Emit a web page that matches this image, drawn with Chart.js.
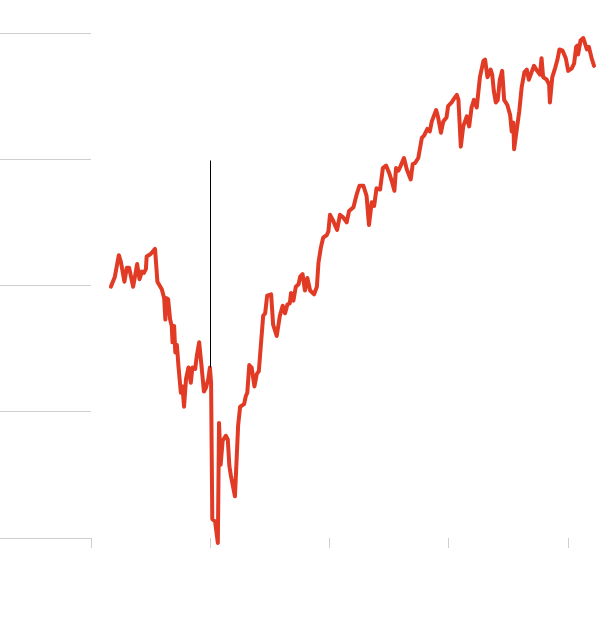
<!DOCTYPE html>
<html>
<head>
<meta charset="utf-8">
<script src="https://cdn.jsdelivr.net/npm/chart.js@4/dist/chart.umd.min.js"></script>
<style>
  html, body { margin: 0; padding: 0; background: #ffffff; }
  #chart { display: block; }
</style>
</head>
<body>
<canvas id="chart" width="600" height="626"></canvas>
<script>
// x positions (days from the first axis tick) and index values
const days = [
  5.0, 6.0, 7.0, 7.5, 8.4, 9.0, 9.6, 10.6, 11.6, 12.2, 12.8, 13.3, 13.8, 14.0, 15.0, 16.1,
  16.7, 17.8, 18.4, 18.7, 19.0, 19.4, 19.9, 20.3, 20.5, 20.9, 21.2, 21.6, 22.0, 22.6, 23.0,
  23.4, 23.9, 24.5, 25.1, 25.5, 26.2, 26.6, 27.2, 27.8, 28.4, 28.9, 29.5, 29.9, 30.2, 30.5,
  31.2, 31.9, 32.2, 32.6, 33.1, 33.9, 34.4, 34.8, 35.2, 36.2, 37.0, 37.5, 38.5, 38.9, 39.3,
  39.8, 40.4, 41.1, 41.7, 42.2, 42.7, 43.3, 43.8, 44.3, 45.3, 45.8, 46.7, 47.5, 48.2, 48.8,
  49.4, 50.0, 50.3, 50.9, 51.5, 52.2, 52.6, 53.2, 53.8, 54.4, 55.1, 56.1, 56.8, 57.2, 57.8,
  58.4, 59.3, 59.7, 60.1, 60.8, 61.6, 61.9, 62.6, 63.4, 64.3, 64.9, 66.0, 66.8, 67.5, 68.5,
  69.3, 69.9, 70.6, 71.2, 71.8, 72.7, 73.4, 74.2, 75.0, 75.6, 76.3, 76.7, 77.3, 77.9, 78.7,
  79.4, 80.4, 80.9, 81.5, 82.3, 83.2, 83.8, 84.6, 85.2, 85.7, 86.8, 87.3, 88.0, 88.6, 89.4,
  89.8, 90.7, 91.3, 92.0, 92.4, 93.0, 93.6, 94.5, 95.1, 95.7, 96.3, 97.0, 97.8, 98.7, 99.1,
  99.7, 100.5, 100.9, 101.3, 101.8, 102.3, 102.8, 103.4, 103.9, 104.7, 105.4, 105.8, 106.2,
  106.4, 107.0, 107.7, 108.3, 109.0, 109.6, 110.1, 110.8, 111.4, 112.2, 112.9, 113.3, 113.7,
  114.6, 115.2, 115.4, 116.0, 116.7, 117.3, 117.8, 118.6, 119.4, 120.0, 120.9, 121.5, 122.0,
  122.3, 122.5, 123.1, 123.8, 124.2, 124.7, 125.2, 125.9, 126.5
];
const values = [
  19.9, 20.7, 22.4, 21.9, 20.3, 21.4, 21.4, 19.9, 21.7, 20.5, 21.1, 21.0, 21.3, 22.3, 22.5, 22.9,
  20.3, 19.7, 19.0, 17.3, 19.0, 18.9, 17.3, 16.8, 15.5, 16.8, 14.7, 15.3, 13.6, 11.5, 12.0,
  10.4, 12.6, 13.5, 12.3, 13.5, 13.4, 14.4, 15.5, 13.6, 11.6, 11.9, 12.6, 13.5, 12.3, 1.5,
  1.3, -0.4, 9.1, 5.8, 7.7, 8.1, 7.8, 5.7, 4.9, 3.3, 8.9, 10.4, 10.6, 11.2, 11.5,
  13.7, 13.5, 12.0, 13.0, 13.2, 15.2, 17.6, 17.8, 19.2, 19.3, 16.9, 16.0, 17.6, 18.4, 17.8,
  18.5, 18.6, 19.4, 18.8, 19.9, 20.1, 20.7, 20.9, 19.6, 20.6, 19.6, 19.3, 19.9, 21.8, 23.0,
  23.8, 24.0, 24.3, 25.6, 25.2, 24.6, 24.4, 25.6, 25.4, 25.0, 25.9, 26.2, 27.2, 27.9, 27.9,
  27.1, 24.8, 26.6, 26.3, 27.7, 27.6, 29.3, 29.5, 28.9, 28.3, 27.5, 29.3, 29.1, 29.5, 30.1,
  29.2, 28.4, 29.6, 29.7, 30.1, 31.7, 31.9, 32.4, 32.2, 33.0, 33.9, 33.3, 32.1, 33.0, 33.3,
  34.2, 34.5, 34.8, 35.1, 34.7, 31.0, 32.6, 33.4, 32.6, 34.1, 34.7, 34.1, 36.5, 37.8, 37.9,
  36.5, 37.1, 36.7, 35.4, 34.5, 34.7, 36.3, 37.0, 34.7, 34.3, 33.5, 32.2, 32.9,
  30.8, 32.2, 33.8, 35.7, 36.9, 37.1, 36.3, 36.9, 37.4, 37.0, 36.7, 38.0, 36.5,
  36.3, 35.9, 34.5, 36.5, 37.2, 37.9, 38.7, 38.6, 38.0, 37.0, 37.2, 37.6, 38.9,
  39.0, 38.3, 39.4, 39.6, 39.2, 38.7, 38.9, 38.0, 37.4
];
// axis ticks (labels are not shown in the picture)
const xTicks = [0, 30, 60, 90, 120];
const yTicks = [0, 10, 20, 30, 40];
// the thin black marker line above the pre-crash point
const markerDay = 29.9;
const markerTop = 29.9;
const markerBottom = 13.5;

const points = days.map((d, i) => ({ x: d, y: values[i] }));

const markerLine = {
  id: 'markerLine',
  afterDatasetsDraw(chart) {
    const { ctx, scales: { x, y } } = chart;
    const px = Math.round(x.getPixelForValue(markerDay)) + 0.5;
    ctx.save();
    ctx.strokeStyle = '#000000';
    ctx.lineWidth = 1;
    ctx.beginPath();
    ctx.moveTo(px, y.getPixelForValue(markerTop));
    ctx.lineTo(px, y.getPixelForValue(markerBottom));
    ctx.stroke();
    ctx.restore();
  }
};

const ctx = document.getElementById('chart').getContext('2d');
const chart = new Chart(ctx, {
  type: 'line',
  data: {
    datasets: [{
      data: points,
      borderColor: '#e23b25',
      borderWidth: 4,
      borderJoinStyle: 'round',
      borderCapStyle: 'round',
      pointRadius: 0,
      tension: 0,
      clip: false
    }]
  },
  options: {
    responsive: false,
    animation: false,
    parsing: true,
    layout: { padding: { top: 33, bottom: 78, left: 0, right: 0 } },
    plugins: {
      legend: { display: false },
      tooltip: { enabled: false }
    },
    scales: {
      x: {
        type: 'linear',
        min: 0,
        max: 128,
        afterBuildTicks: axis => { axis.ticks = xTicks.map(v => ({ value: v })); },
        ticks: { display: false },
        grid: {
          drawOnChartArea: false,
          drawTicks: true,
          tickLength: 10,
          color: '#cfcfcf',
          lineWidth: 1
        },
        border: { display: false }
      },
      y: {
        type: 'linear',
        position: 'left',
        min: 0,
        max: 40,
        afterBuildTicks: axis => { axis.ticks = yTicks.map(v => ({ value: v })); },
        ticks: { display: false },
        grid: {
          drawOnChartArea: false,
          drawTicks: true,
          tickLength: 91,
          color: '#cfcfcf',
          lineWidth: 1
        },
        border: { display: false }
      }
    }
  },
  plugins: [markerLine]
});
</script>
</body>
</html>
